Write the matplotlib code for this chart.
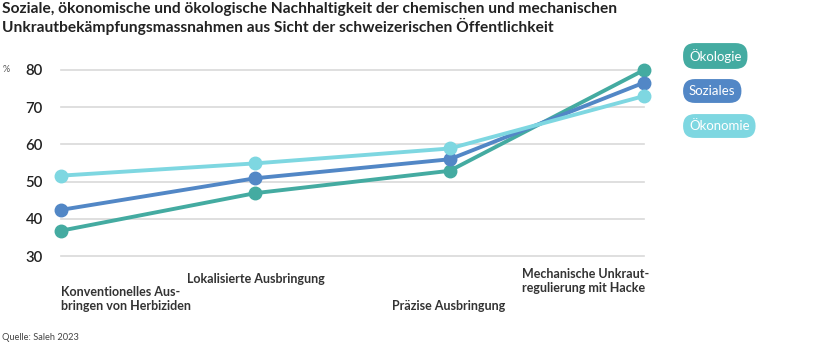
import matplotlib.pyplot as plt

W, H = 836, 342

categories = ['Konventionelles Aus-\nbringen von Herbiziden', 'Lokalisierte Ausbringung',
              'Präzise Ausbringung', 'Mechanische Unkraut-\nregulierung mit Hacke']
oekologie = [36.8, 46.9, 52.9, 80.0]
soziales = [42.4, 50.9, 56.0, 76.6]
oekonomie = [51.6, 54.9, 58.9, 73.0]
series_names = ['Ökologie', 'Soziales', 'Ökonomie']
colors = ['#44aba1', '#5287c6', '#7ed7e1']
yticks = [30, 40, 50, 60, 70, 80]

plt.rcParams['font.family'] = ['Lato', 'DejaVu Sans']

def fx(x):
    return x / W

def fy(y):
    return 1 - y / H

fig = plt.figure(figsize=(W / 100, H / 100), dpi=100)
# plot area: x 0..3 maps to px 61..644, y 30..80 maps to px 256..70
ax = fig.add_axes([fx(61), fy(256), (644 - 61) / W, (256 - 70) / H])
ax.set_xlim(0, 3)
ax.set_ylim(30, 80)
for s in ax.spines.values():
    s.set_visible(False)
ax.set_xticks([])
ax.set_yticks(yticks)
ax.tick_params(axis='y', length=0, pad=13, labelsize=10.8, labelcolor='#222222')
for lbl in ax.get_yticklabels():
    lbl.set_fontweight('semibold')
for v in yticks:
    ax.axhline(v, color='#d9d9d9', lw=1.2, zorder=0, clip_on=False)

x = range(len(categories))
for vals, c in zip([oekologie, soziales, oekonomie], colors):
    ax.plot(x, vals, color=c, lw=2.8, marker='o', ms=9, clip_on=False, zorder=3)

# category labels, staggered
lab = dict(fontsize=9.0, fontweight='bold', color='#333333', linespacing=1.2)
fig.text(fx(61), fy(286), categories[0], ha='left', va='top', **lab)
fig.text(fx(256), fy(273), categories[1], ha='center', va='top', **lab)
fig.text(fx(449), fy(300), categories[2], ha='center', va='top', **lab)
fig.text(fx(522), fy(268), categories[3], ha='left', va='top', **lab)

fig.text(fx(3), fy(69), '%', ha='left', va='center', fontsize=6.5, color='#555555')

# legend pills
for name, c, yc in zip(series_names, colors, [56, 91, 126]):
    fig.text(fx(689), fy(yc), name, ha='left', va='center', fontsize=9.5, color='white',
             bbox=dict(boxstyle='round,pad=0.45,rounding_size=0.9', fc=c, ec='none'))

fig.text(fx(2), fy(2), 'Soziale, ökonomische und ökologische Nachhaltigkeit der chemischen und mechanischen\n'
         'Unkrautbekämpfungsmassnahmen aus Sicht der schweizerischen Öffentlichkeit',
         ha='left', va='top', fontsize=11.2, fontweight='bold', color='#222222', linespacing=1.15)
fig.text(fx(2), fy(337), 'Quelle: Saleh 2023', ha='left', va='center', fontsize=6.7, color='#444444')

fig.savefig('out.png', dpi=100)
